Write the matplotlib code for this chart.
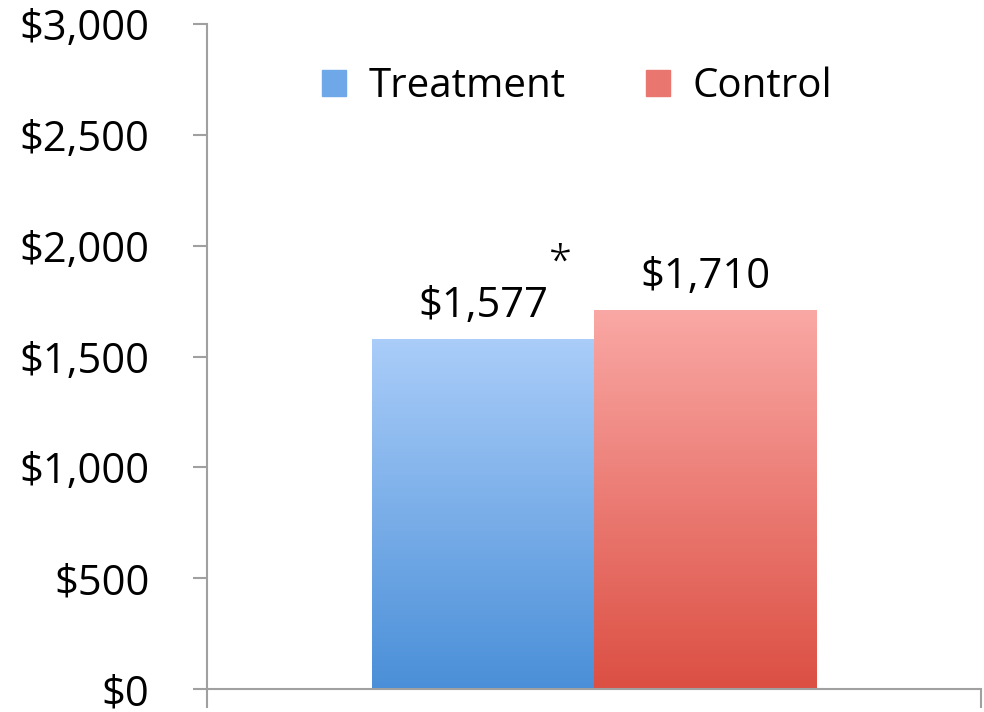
import numpy as np
import matplotlib.pyplot as plt
from matplotlib.colors import LinearSegmentedColormap
from matplotlib.ticker import FuncFormatter

# data
groups = ["Treatment", "Control"]
values = [1577, 1710]
labels = ["$1,577", "$1,710"]
top_colors = ["#aacdf9", "#faa8a5"]
bottom_colors = ["#4a8fd8", "#dc4f43"]
yticks = [0, 500, 1000, 1500, 2000, 2500, 3000]

plt.rcParams['font.family'] = ['Open Sans', 'DejaVu Sans']

fig = plt.figure(figsize=(9.84, 7.12), dpi=100)
ax = fig.add_axes([207 / 984, 23 / 712, 774 / 984, 665 / 712])

width = 0.287
center = 0.0
xs = [center - width / 2, center + width / 2]
for x, v, lab, c0, c1 in zip(xs, values, groups, top_colors, bottom_colors):
    bar = ax.bar(x, v, width=width, color=c1, label=lab, zorder=2)[0]
    cmap = LinearSegmentedColormap.from_list(lab, [c1, c0])
    grad = np.linspace(0, 1, 256).reshape(-1, 1)
    im = ax.imshow(grad, cmap=cmap, aspect='auto', origin='lower',
                   extent=[x - width / 2, x + width / 2, 0, v], zorder=2)
    im.set_clip_path(bar)

ax.set_xlim(-0.5, 0.5)
ax.set_ylim(0, 3000)

# value labels
for x, v, t in zip(xs, values, labels):
    ax.text(x, v + 100, t, ha='center', va='baseline', fontsize=30)
ax.text(xs[0] + 0.1, 1920, "*", ha='center', va='center', fontsize=30, fontweight='light')

ax.set_yticks(yticks)
ax.yaxis.set_major_formatter(FuncFormatter(lambda v, p: "${:,.0f}".format(v)))
ax.tick_params(axis='y', direction='out', length=10, width=1.5, color='#a0a0a0',
               labelsize=30, pad=31.5)
ax.set_xticks([-0.5, 0.5])
ax.set_xticklabels([])
ax.tick_params(axis='x', direction='out', length=14, width=1.5, color='#a0a0a0')

for s in ['top', 'right']:
    ax.spines[s].set_visible(False)
for s in ['left', 'bottom']:
    ax.spines[s].set_color('#a0a0a0')
    ax.spines[s].set_linewidth(1.5)

leg = ax.legend(loc='upper center', bbox_to_anchor=(0.478, 0.99), ncol=2, frameon=False,
                fontsize=29, handlelength=0.6, handleheight=0.6, handletextpad=0.55,
                columnspacing=2.0)
for h, c in zip(leg.legend_handles, ["#6ea8e8", "#ea7670"]):
    h.set_color(c)

fig.savefig("out.png", dpi=100)
